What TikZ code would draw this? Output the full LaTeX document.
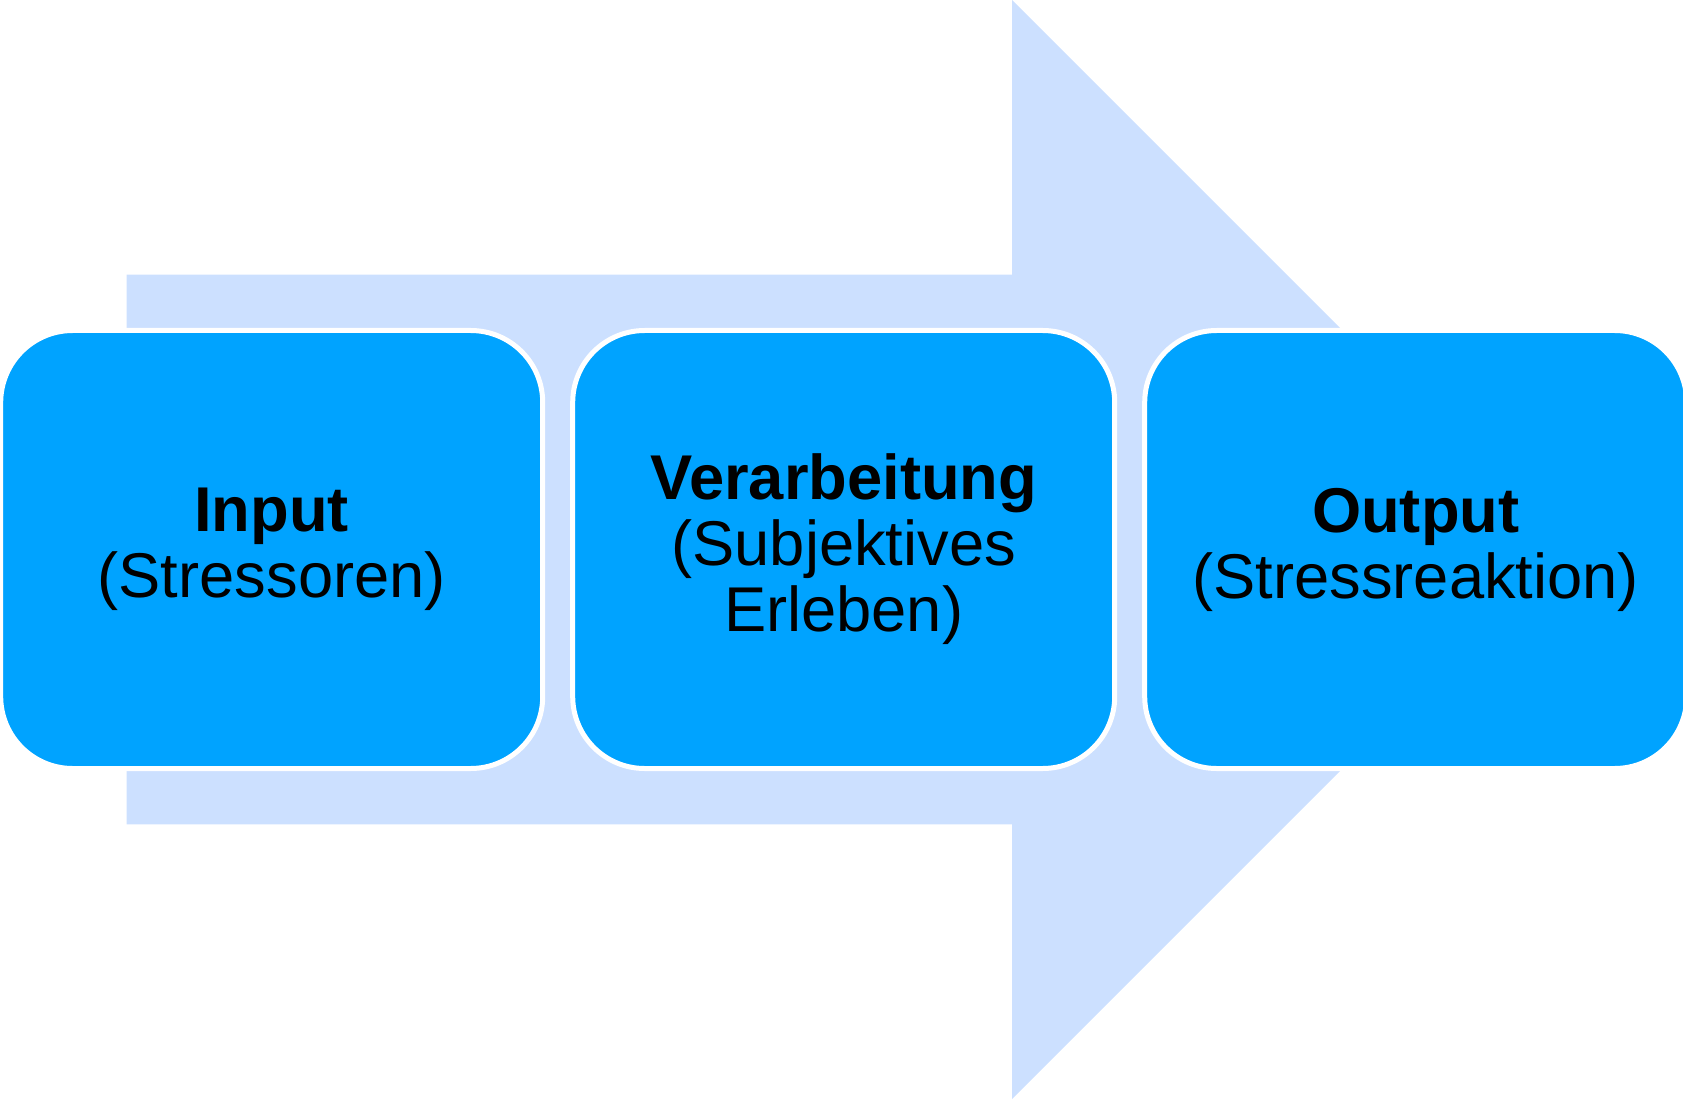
\documentclass[tikz,border=0pt]{standalone}
\usepackage{fontspec}
\setmainfont{Liberation Sans}
\usetikzlibrary{positioning}

\definecolor{boxblue}{RGB}{0,163,255}
\definecolor{arrowblue}{RGB}{204,224,255}

\begin{document}
\begin{tikzpicture}[
    stage/.style={rectangle, rounded corners=0.72cm, draw=white, line width=0.05cm,
        fill=boxblue, minimum width=5.42cm, minimum height=4.38cm, align=center,
        inner sep=0pt, font=\fontsize{18}{18.8}\selectfont}
]
    \useasboundingbox (0,0) rectangle (16.83,10.99);

    % grosser Pfeil im Hintergrund
    \fill[arrowblue] (1.266,2.747) -- (10.12,2.747) -- (10.12,0) -- (15.615,5.495)
        -- (10.12,10.99) -- (10.12,8.243) -- (1.266,8.243) -- cycle;

    % drei Stufen
    \node[stage] (input) at (2.717,5.495) {\textbf{Input}\\(Stressoren)};
    \node[stage, right=0.25cm of input] (verarb) {\textbf{Verarbeitung}\\(Subjektives\\Erleben)};
    \node[stage, right=0.25cm of verarb] (output) {\textbf{Output}\\(Stressreaktion)};
\end{tikzpicture}
\end{document}
